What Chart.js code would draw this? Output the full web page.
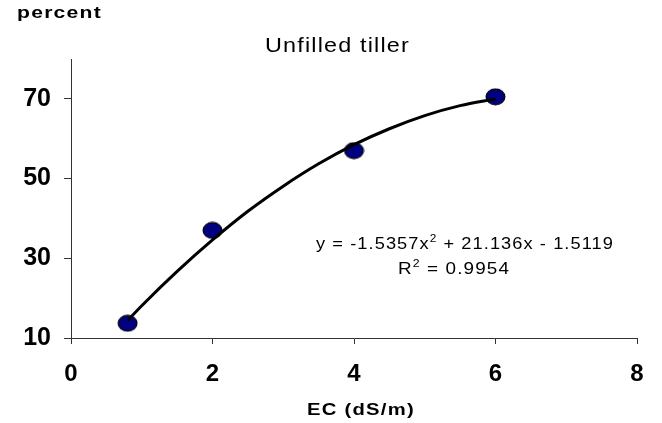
<!DOCTYPE html>
<html>
<head>
<meta charset="utf-8">
<script src="https://cdn.jsdelivr.net/npm/chart.js@4"></script>
<style>
    html, body { margin: 0; padding: 0; background: #fff; }
    #wrap { width: 662px; height: 423px; }
</style>
</head>
<body>
<div id="wrap"><canvas id="chart" width="662" height="423"></canvas></div>
<script>
// Measured points
const ecValues = [0.8, 2, 4, 6];
const tillerValues = [13.7, 37, 57, 70.5];

// Trend line
const trendX = [0.8, 1, 1.5, 2, 2.5, 3, 3.5, 4, 4.5, 5, 5.5, 6];
const trendY = [14.4, 18.1, 26.7, 34.6, 41.8, 48.1, 53.7, 58.5, 62.5, 65.8, 68.3, 70.0];

const yTicks = [10, 30, 50, 70];
const xTicks = [0, 2, 4, 6, 8];

const FONT = 'Arial, "Liberation Sans", sans-serif';

// Oval marker like the Excel one
function makeMarker() {
    const c = document.createElement('canvas');
    c.width = 21;
    c.height = 18;
    const g = c.getContext('2d');
    g.beginPath();
    g.ellipse(10.5, 9, 9.4, 7.9, 0, 0, Math.PI * 2);
    g.fillStyle = '#000080';
    g.fill();
    g.lineWidth = 1.2;
    g.strokeStyle = '#000';
    g.stroke();
    return c;
}

// text pieces: [string, superscript?]; stretched sideways to a given width like the old Excel output
function drawStretched(ctx, parts, left, width, y, size, bold) {
    const big = (bold ? 'bold ' : '') + size + 'px ' + FONT;
    const small = Math.round(size * 0.65) + 'px ' + FONT;
    let total = 0;
    parts.forEach(([t, sup]) => {
        ctx.font = sup ? small : big;
        total += ctx.measureText(t).width;
    });
    const sx = width / total;
    ctx.save();
    ctx.translate(left, y);
    ctx.scale(sx, 1);
    ctx.textAlign = 'left';
    let x = 0;
    parts.forEach(([t, sup]) => {
        ctx.font = sup ? small : big;
        ctx.fillText(t, x, sup ? -size * 0.42 : 0);
        x += ctx.measureText(t).width;
    });
    ctx.restore();
}

// Draw the loose text (y label, title, equation, x label)
const textPlugin = {
    id: 'chartText',
    afterDraw(chart) {
        const ctx = chart.ctx;
        ctx.save();
        ctx.fillStyle = '#000';
        ctx.textBaseline = 'alphabetic';
        ctx.letterSpacing = '1px';

        drawStretched(ctx, [['percent', false]], 17, 85, 18, 17, true);
        drawStretched(ctx, [['Unfilled tiller', false]], 265, 145, 52, 20, false);
        drawStretched(ctx, [['EC (dS/m)', false]], 307, 108, 415, 16, true);

        drawStretched(ctx, [['y = -1.5357x', false], ['2', true], [' + 21.136x - 1.5119', false]], 316, 298, 249, 17, false);
        drawStretched(ctx, [['R', false], ['2', true], [' = 0.9954', false]], 398, 112, 274, 17, false);
        ctx.restore();
    }
};

new Chart(document.getElementById('chart'), {
    type: 'scatter',
    data: {
        datasets: [
            {
                label: 'Trend',
                data: trendX.map((x, i) => ({ x: x, y: trendY[i] })),
                showLine: true,
                borderColor: '#000',
                borderWidth: 3,
                pointRadius: 0,
                tension: 0.4,
                cubicInterpolationMode: 'monotone',
                order: 0
            },
            {
                label: 'Unfilled tiller',
                data: ecValues.map((x, i) => ({ x: x, y: tillerValues[i] })),
                pointStyle: makeMarker(),
                pointRadius: 9,
                order: 1
            }
        ]
    },
    options: {
        responsive: false,
        animation: false,
        events: [],
        layout: { padding: { top: 59, right: 25, left: 0, bottom: 0 } },
        plugins: {
            legend: { display: false },
            title: { display: false },
            tooltip: { enabled: false }
        },
        scales: {
            x: {
                type: 'linear',
                min: 0,
                max: 8,
                afterBuildTicks: (scale) => { scale.ticks = xTicks.map(v => ({ value: v })); },
                afterFit: (scale) => { scale.height = 85; },
                border: { display: true, color: '#333', width: 1 },
                grid: { drawOnChartArea: false, drawTicks: true, tickLength: 6, color: '#333' },
                ticks: {
                    color: '#000',
                    padding: 16,
                    font: { family: FONT, size: 24, weight: 'bold' }
                }
            },
            y: {
                type: 'linear',
                min: 10,
                max: 80,
                afterBuildTicks: (scale) => { scale.ticks = yTicks.map(v => ({ value: v })); },
                afterFit: (scale) => { scale.width = 71; },
                border: { display: true, color: '#333', width: 1 },
                grid: { drawOnChartArea: false, drawTicks: true, tickLength: 7, color: '#333' },
                ticks: {
                    color: '#000',
                    padding: 13,
                    font: { family: FONT, size: 25, weight: 'bold' }
                }
            }
        }
    },
    plugins: [textPlugin]
});
</script>
</body>
</html>
